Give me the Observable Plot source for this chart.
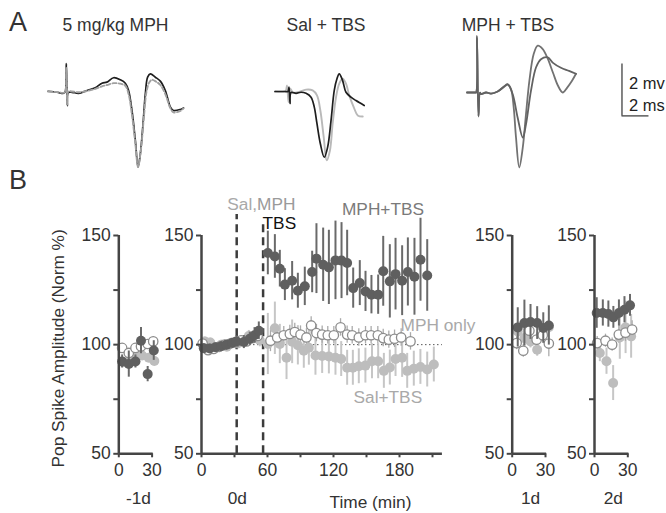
<!DOCTYPE html>
<html><head><meta charset="utf-8">
<script src="https://cdn.jsdelivr.net/npm/d3@7"></script>
<script src="https://cdn.jsdelivr.net/npm/@observablehq/plot@0.6"></script>
<style>
body{margin:0;background:#fff;}
#fig{position:relative;width:666px;height:513px;overflow:hidden;background:#fff;}
</style></head><body><div id="fig"></div>
<script>
// ---------------- Panel A: example traces (ms from trace start, mV from baseline) ----------------
const tr1BlackT = [0,0.67,1.16,1.28,1.36,1.43,1.5,1.78,2.27,2.89,3.5,4.0,4.37,4.86,5.36,5.73,5.97,6.22,6.47,6.67,6.84,7.04,7.21,7.38,7.58,7.95,8.32,8.69,9.07,9.3,9.8,10.04];
const tr1BlackV = [0.01,-0.03,-0.07,0,1.07,-0.54,-0.04,-0.03,-0.07,0.04,0.14,0.32,0.36,0.53,0.45,0.32,0.04,-0.73,-1.88,-2.91,-2.4,-1.24,-0.09,0.55,0.68,0.55,0.4,0.04,-0.6,-0.73,-0.69,-0.63];
const tr1GrayT = [0,0.67,1.16,1.28,1.36,1.43,1.5,1.78,2.27,2.89,3.5,4.0,4.37,4.86,5.36,5.73,5.97,6.22,6.47,6.67,6.87,7.1,7.3,7.5,7.7,8.0,8.32,8.69,9.07,9.3,9.8,10.04];
const tr1GrayV = [0,-0.02,-0.05,0,0.9,-0.5,0,0,-0.03,0.02,0.1,0.2,0.25,0.32,0.3,0.22,-0.1,-0.9,-2.0,-2.9,-2.3,-1.0,0.0,0.35,0.45,0.38,0.25,-0.1,-0.65,-0.8,-0.75,-0.65];
const tr2BlackT = [0,0.69,0.96,1.04,1.11,1.19,1.56,1.93,2.3,2.67,2.91,3.11,3.36,3.65,3.9,4.15,4.39,4.59,4.76,5.01,5.26,5.63,6.0,6.61];
const tr2BlackV = [0,0,0,0.17,-0.46,-0.04,-0.07,-0.03,-0.07,-0.22,-0.6,-1.24,-2.01,-2.53,-2.14,-1.12,0.04,0.49,0.68,0.42,-0.03,-0.22,-0.35,-0.54];
const tr2GrayT = [0,0.69,0.81,0.89,1.0,1.11,1.33,1.68,2.3,2.79,3.11,3.36,3.61,3.83,4.07,4.27,4.52,4.76,5.01,5.26,5.5,5.83,6.13,6.5];
const tr2GrayV = [0,0,0.04,0.23,-0.41,0.12,-0.04,-0.03,0.07,0.04,-0.15,-0.73,-1.76,-2.65,-2.27,-1.24,-0.22,0.3,0.49,0.3,-0.15,-0.6,-0.92,-0.96];
const tr3aT = [0,0.59,0.67,0.74,0.85,0.96,1.04,1.41,1.78,2.27,2.76,3.01,3.26,3.46,3.63,3.87,4.13,4.37,4.62,4.94,5.24,5.61,5.98,6.37,6.74,7.09,7.41,7.78,8.07];
const tr3aV = [0,0,0,2.18,-0.93,-0.01,-0.06,0,-0.04,0.04,0.22,0.3,0.13,-0.58,-1.73,-2.88,-2.12,-0.83,0.45,1.48,1.8,1.67,1.3,0.76,0.26,0,0.18,0.45,0.72];
const tr3bT = [0,0.59,0.67,0.74,0.85,0.96,1.04,1.41,1.78,2.27,2.76,3.01,3.38,3.75,4.13,4.37,4.74,5.11,5.48,5.98,6.37,6.96,7.56,8.07];
const tr3bV = [0,0,0,2.1,-0.9,-0.01,-0.06,0,-0.04,0.04,0.24,0.32,-0.06,-0.96,-1.73,-1.22,0.07,0.96,1.28,1.35,1.14,0.95,0.83,0.72];
const traceTitles = ["5 mg/kg MPH", "Sal + TBS", "MPH + TBS"];
const scaleBarMs = 2, scaleBarMv = 2;

// ---------------- Panel B: pop spike amplitude (Norm %) ----------------
// day 0 (time in min)
const d0MphTbsT = [2.1,7.5,12.7,17.9,22.7,27.9,31.8,38.5,43.9,48.2,52.1,60.3,66.7,71.2,75.8,82.4,87.6,93.9,100.6,104.5,110.6,115.8,121.8,127.3,132.4,137.9,143.9,149.1,154.5,160.6,165.2,171.2,176.4,182.4,187.6,193.6,199.1,205.2];
const d0MphTbsV = [98.4,98.2,98.8,99.3,100,100.8,101.5,101.2,102.7,104.3,106.4,142.0,140.4,134.8,127.5,129.3,124.7,126.7,133.3,139.4,136.6,135.4,138.6,138.5,137.4,125.9,128.2,124.4,122.9,122.9,133.6,129.0,132.3,129.3,133.3,131.1,138.9,131.7];
const d0MphTbsE = [2,2,2,2,2,2,2.5,3,3,3.5,4,10,10,8.4,7.3,8.8,8,8.8,9.5,16,16.8,17,18,17.4,15,9.2,10.3,9.2,8.8,9,16,16.8,16.4,16,15.6,17.6,19,16.4];
const d0SalTbsT = [3,8,13,18,23,28,33,38,43,48,53,60.3,66.7,71.2,77.3,82.4,87.6,93,97.6,103.6,109.7,115.8,121.8,127,132.4,137.6,143,149,155,160.6,165.8,171.2,176.4,182.4,187,193,199,205.2,211.2];
const d0SalTbsV = [101.5,101,98.5,100,99,101,100.5,102,104,103,102,100.3,107.5,100.3,94,101.3,99.7,97.2,98.6,95,94.8,94.6,94,93.4,89.4,89.4,90.1,90.4,92.4,92.4,88,89.5,93.4,94,88,89,89.8,88.6,90.9];
const d0SalTbsE = [2,2,2,2,2,2,2,2,2.5,2.5,3,14,12,9,10,10,9,8,8,9,8,8,8,8,8,8,8,8,8,8,8,8,8,9,8,8,8,8,8];
const d0MphOnlyT = [1,6,11,16,21,26,31,36,41,46,51,62.7,68.8,74.8,80.3,84.8,90,95.4,99.7,104.5,109.7,114.8,120.3,126.4,132.4,137,143,149.1,154.2,160.3,165.2,170.3,175.5,181.5,190];
const d0MphOnlyV = [100.5,97.5,98,99,100,100.5,101,102,101.5,103,104,101.8,103.3,104.3,104.9,105.8,104.6,103.3,108.8,105.3,104.6,104.3,104.3,107.9,104.6,104.3,103.3,104.3,104.3,104.3,103,102.3,102.7,103.3,101.5];
const d0MphOnlyE = [2,2,2,2,2,2,2,2,2,2,2,5,4,4,4,4,4,4,4,4,4,4,4,4,4,4,4,4,4,4,4,4,4,4,4];
const salMphInjection = 32, tbsTime = 56;
// day -1
const dm1MphTbsT = [3,9,15,20,26,31.5], dm1MphTbsV = [92.3,91.1,92.3,101.8,86.5,97.3], dm1MphTbsE = [3,6,3,6,3.5,4.5];
const dm1SalTbsT = [4,10,16,21,27,32], dm1SalTbsV = [92,93,95,95,94,92.5], dm1SalTbsE = [2,2,2,2,2,2];
const dm1MphOnlyT = [3,9,15,20,26,31], dm1MphOnlyV = [98.5,96.2,98.5,99.2,100.3,101.5], dm1MphOnlyE = [2,2,2,2,2,2];
// day 1
const d1MphTbsT = [5,11,16.5,22.5,28,33], d1MphTbsV = [107.9,109.9,110.4,109.9,107.6,108.8], d1MphTbsE = [9,10.5,8,7.5,7,9];
const d1SalTbsT = [5,11,16.5,22.5,28,33], d1SalTbsV = [106,103,101.5,97.7,105,108], d1SalTbsE = [3,4,3,3,3,3];
const d1MphOnlyT = [4,10,15.5,22,27.5,33], d1MphOnlyV = [100.7,97.2,106.4,102.3,104.3,100.5], d1MphOnlyE = [3,3,3,3,3,6];
// day 2
const d2MphTbsT = [2,7.5,12.5,17,22,27,32], d2MphTbsV = [114.5,114.5,114,112.5,114.5,116,118], d2MphTbsE = [7,6,6,5,6,6,5];
const d2SalTbsT = [4.8,10.8,16.8,22.8,28,33], d2SalTbsV = [96.2,92.4,82.4,103.3,107.9,103.8], d2SalTbsE = [4,6,8,10,12,10];
const d2MphOnlyT = [2.4,9.9,15.9,21.9,27.9,33.9], d2MphOnlyV = [100.7,101.8,100,104.6,105.5,106.9], d2MphOnlyE = [3,3,3,4,4,4];

const yTicks = [50,75,100,125,150];
const yLabelled = [50,100,150];
const xTicksMain = [0,30,60,90,120,150,180,210], xLabelsMain = [0,60,120,180];
const xTicksDay = [0,30];
const dayLabels = ["-1d","0d","1d","2d"];
const seriesLabels = {mphTbs: "MPH+TBS", salTbs: "Sal+TBS", mphOnly: "MPH only"};

// ---------------- drawing ----------------
const FONT = "'Liberation Sans', Arial, Helvetica, sans-serif";
const AX = "#454545", TXT = "#333";
const C = {dark: "#5f5f5f", darkBar: "#6a6a6a", light: "#bdbdbd", lightBar: "#c6c6c6", open: "#8c8c8c", openBar: "#ababab"};
const fig = document.getElementById("fig");

function place(node, left, top) {
  const d = document.createElement("div");
  d.style.cssText = `position:absolute;left:${left}px;top:${top}px;`;
  d.appendChild(node); fig.appendChild(d);
}
function label(text, cx, cy, size, color, anchor = "middle") {
  const d = document.createElement("div");
  d.textContent = text;
  d.style.cssText = `position:absolute;white-space:nowrap;line-height:1;font-family:${FONT};font-size:${size}px;color:${color};top:${cy - 0.4885*size}px;left:${cx}px;` + (anchor === "middle" ? "transform:translateX(-50%);" : "");
  fig.appendChild(d);
}
const rows = (t, v, e) => t.map((x, i) => ({t: x, v: v[i], e: e ? e[i] : 0}));

// Panel A
const MS = 13.5, MV = 26, VMIN = -3.3, VMAX = 2.5;
function tracePlot(lines, tmax, extra = []) {
  return Plot.plot({
    width: (tmax + 1) * MS, height: (VMAX - VMIN) * MV, margin: 0,
    x: {domain: [-1, tmax], axis: null}, y: {domain: [VMIN, VMAX], axis: null},
    style: {background: "transparent", overflow: "visible", fontFamily: FONT},
    marks: [
      ...lines.map(l => Plot.line(rows(l.t, l.v), {x: "t", y: "v", stroke: l.color, strokeWidth: l.w || 1.7, strokeDasharray: l.dash, curve: "catmull-rom"})),
      ...extra
    ]
  });
}
place(tracePlot([
  {t: tr1BlackT, v: tr1BlackV, color: "#1e1e1e"},
  {t: tr1GrayT, v: tr1GrayV, color: "#a0a0a0", dash: "4,2.2", w: 1.9}
], 11), 47.7 - MS, 91 - VMAX * MV);
place(tracePlot([
  {t: tr2GrayT, v: tr2GrayV, color: "#b9b9b9", w: 1.9},
  {t: tr2BlackT, v: tr2BlackV, color: "#1e1e1e"}
], 7.6), 274 - MS, 91 - VMAX * MV);
const sbX = 11.48, sbY = -0.9;
place(tracePlot([
  {t: tr3aT, v: tr3aV, color: "#727272", w: 1.8},
  {t: tr3bT, v: tr3bV, color: "#626262", w: 1.8}
], 14.5, [
  Plot.ruleX([sbX], {y1: sbY, y2: sbY + scaleBarMv, stroke: "#333", strokeWidth: 1.2}),
  Plot.ruleY([sbY], {x1: sbX, x2: sbX + scaleBarMs, stroke: "#333", strokeWidth: 1.2}),
  Plot.text([`${scaleBarMv} mv`], {x: () => sbX + 0.52, y: () => sbY + 1.23, text: d => d, textAnchor: "start", fontSize: 16.5, fill: "#222"}),
  Plot.text([`${scaleBarMs} ms`], {x: () => sbX + 0.52, y: () => sbY + 0.39, text: d => d, textAnchor: "start", fontSize: 16.5, fill: "#222"})
]), 466 - MS, 91.7 - VMAX * MV);

label("A", 9, 22, 27, TXT, "start");
label(traceTitles[0], 115.5, 26, 17.5, TXT);
label(traceTitles[1], 326, 26, 17.5, TXT);
label(traceTitles[2], 508, 26, 17.5, TXT);
label("B", 9, 180, 27, TXT, "start");

// Panel B
function groupMarks(g) {
  const bar = (data, stroke, w) => Plot.ruleX(data, {x: "t", y1: d => d.v - d.e, y2: d => d.v + d.e, stroke, strokeWidth: w});
  return [
    bar(g.light, C.lightBar, 2),
    bar(g.open, C.openBar, 1.3),
    Plot.dot(g.light, {x: "t", y: "v", r: 5, fill: C.light}),
    Plot.dot(g.open, {x: "t", y: "v", r: 4.7, fill: "white", stroke: C.open, strokeWidth: 1.3}),
    bar(g.dark, C.darkBar, 2),
    Plot.dot(g.dark, {x: "t", y: "v", r: 5, fill: C.dark})
  ];
}
function panel(p) {
  const top = 180, H = 333, Y150 = 235, Y50 = 453.3;
  const xEnd = p.x0 + p.tmax * p.ppm;
  return Plot.plot({
    width: p.right - p.left, height: H,
    marginLeft: p.x0 - p.left, marginRight: p.right - xEnd, marginTop: Y150 - top, marginBottom: top + H - Y50,
    x: {domain: [0, p.tmax], axis: null}, y: {domain: [50, 150], axis: null},
    style: {background: "transparent", overflow: "visible", fontFamily: FONT, color: TXT},
    marks: [
      ...(p.under || []),
      ...groupMarks(p.groups),
      Plot.ruleX([0], {y1: 50, y2: 150, stroke: AX, strokeWidth: 2.5}),
      Plot.ruleY([50], {x1: 0, x2: p.tmax, stroke: AX, strokeWidth: 2.5}),
      Plot.axisY(yTicks, {tickSize: 5, tickPadding: 3, strokeWidth: 2, stroke: AX, fill: TXT, fontSize: 17.5, label: null,
        tickFormat: d => yLabelled.includes(d) ? String(d) : ""}),
      Plot.axisX(p.xticks, {tickSize: 4, tickPadding: 6, strokeWidth: 2, stroke: AX, fill: TXT, fontSize: 17.5, label: null,
        tickFormat: d => p.xlabels.includes(d) ? String(d) : ""}),
      Plot.text([p.day], {x: () => p.dayX, y: () => 29.5, text: d => d, fontSize: 17.3, fill: TXT}),
      ...(p.over || [])
    ]
  });
}
const txt = (s, x, y, fill, anchor = "middle", extra = {}) =>
  Plot.text([s], {x: () => x, y: () => y, text: d => d, fill, textAnchor: anchor, fontSize: 17.3, ...extra});

// -1d
place(panel({
  left: 0, right: 160, x0: 118.3, tmax: 31, ppm: 1.11, xticks: xTicksDay, xlabels: xTicksDay, day: dayLabels[0], dayX: 17.7,
  groups: {dark: rows(dm1MphTbsT, dm1MphTbsV, dm1MphTbsE), light: rows(dm1SalTbsT, dm1SalTbsV, dm1SalTbsE), open: rows(dm1MphOnlyT, dm1MphOnlyV, dm1MphOnlyE)},
  over: [txt("Pop Spike Amplitude (Norm %)", -54.3, 98.3, TXT, "middle", {rotate: -90})]
}), 0, 180);

// 0d
place(panel({
  left: 150, right: 460, x0: 201, tmax: 219, ppm: 1.1, xticks: xTicksMain, xlabels: xLabelsMain, day: dayLabels[1], dayX: 32.5,
  groups: {dark: rows(d0MphTbsT, d0MphTbsV, d0MphTbsE), light: rows(d0SalTbsT, d0SalTbsV, d0SalTbsE), open: rows(d0MphOnlyT, d0MphOnlyV, d0MphOnlyE)},
  under: [
    Plot.ruleY([100], {x1: 0, x2: 219, stroke: "#555", strokeWidth: 1, strokeDasharray: "1.5,2.5"}),
    Plot.ruleX([salMphInjection], {y1: 50, y2: 159.6, stroke: "#3c3c3c", strokeWidth: 2.5, strokeDasharray: "8,5"}),
    Plot.ruleX([tbsTime], {y1: 50, y2: 155, stroke: "#3c3c3c", strokeWidth: 2.5, strokeDasharray: "8,5"})
  ],
  over: [
    txt("Sal,", 50.5, 164.3, "#a9a9a9", "end"),
    txt("MPH", 50.5, 164.3, "#9a9a9a", "start"),
    txt("TBS", 55.5, 155.6, "#111", "start"),
    txt(seriesLabels.mphTbs, 165, 162, "#7a7a7a"),
    txt(seriesLabels.mphOnly, 215, 108.8, "#a9a9a9"),
    txt(seriesLabels.salTbs, 169.4, 75.9, "#a9a9a9"),
    txt("Time (min)", 153.6, 27.7, TXT)
  ]
}), 150, 180);

// 1d
place(panel({
  left: 460, right: 560, x0: 511.7, tmax: 31, ppm: 1.11, xticks: xTicksDay, xlabels: xTicksDay, day: dayLabels[2], dayX: 16.5,
  groups: {dark: rows(d1MphTbsT, d1MphTbsV, d1MphTbsE), light: rows(d1SalTbsT, d1SalTbsV, d1SalTbsE), open: rows(d1MphOnlyT, d1MphOnlyV, d1MphOnlyE)}
}), 460, 180);

// 2d
place(panel({
  left: 560, right: 666, x0: 594, tmax: 31, ppm: 1.11, xticks: xTicksDay, xlabels: xTicksDay, day: dayLabels[3], dayX: 17,
  groups: {dark: rows(d2MphTbsT, d2MphTbsV, d2MphTbsE), light: rows(d2SalTbsT, d2SalTbsV, d2SalTbsE), open: rows(d2MphOnlyT, d2MphOnlyV, d2MphOnlyE)}
}), 560, 180);
</script></body></html>
